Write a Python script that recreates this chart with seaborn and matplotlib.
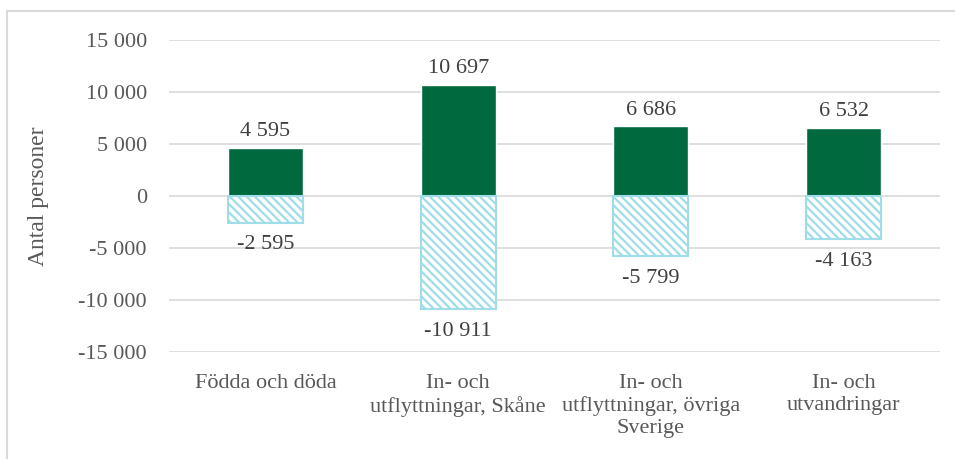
import matplotlib
matplotlib.use("Agg")
import matplotlib.pyplot as plt
import seaborn as sns
import pandas as pd
from matplotlib.patches import Rectangle

categories = ["Födda och döda", "In- och\nutflyttningar, Skåne",
              "In- och\nutflyttningar, övriga\nSverige", "In- och\nutvandringar"]
positive = [4595, 10697, 6686, 6532]
negative = [-2595, -10911, -5799, -4163]
yticks = [-15000, -10000, -5000, 0, 5000, 10000, 15000]

sns.set_theme(style="white")
plt.rcParams['font.family'] = ['Liberation Serif', 'DejaVu Serif']
plt.rcParams['hatch.linewidth'] = 1.6

fig = plt.figure(figsize=(9.55, 4.59), dpi=100)
ax = fig.add_axes([169/955, 1-352/459, (940-169)/955, (352-40)/459])

df = pd.DataFrame({"cat": categories, "pos": positive, "neg": negative})
green = "#00693E"
blue = "#9FDDE8"
text_col = "#595959"

sns.barplot(data=df, x="cat", y="pos", color=green, width=0.39, ax=ax,
            saturation=1, zorder=3)
n0 = len(ax.patches)
sns.barplot(data=df, x="cat", y="neg", color="white", width=0.39, ax=ax,
            saturation=1, zorder=3)
for p in ax.patches[n0:]:
    p.set_hatch("\\\\\\\\")
    p.set_edgecolor(blue)
    p.set_linewidth(1.5)
    p.set_facecolor("white")

ax.set_ylim(-15000, 15000)
ax.set_xlim(-0.5, len(categories) - 0.5)
ax.set_yticks(yticks)
ax.set_yticklabels([f"{v:,}".replace(",", " ") for v in yticks])
ax.yaxis.grid(True, color="#d9d9d9", linewidth=1.2, zorder=0)
ax.set_axisbelow(True)
for s in ax.spines.values():
    s.set_visible(False)
ax.tick_params(axis="both", length=0, labelsize=16, labelcolor=text_col)
ax.tick_params(axis="y", pad=16)
ax.tick_params(axis="x", pad=16)
ax.set_xlabel("")
ax.set_ylabel("Antal personer", fontsize=17, color=text_col, labelpad=21)

for i, (pv, nv) in enumerate(zip(positive, negative)):
    ax.annotate(f"{pv:,}".replace(",", " "), (i, pv), xytext=(0, 5),
                textcoords="offset points", ha="center", va="bottom",
                fontsize=16, color="#404040")
    ax.annotate(f"{nv:,}".replace(",", " "), (i, nv), xytext=(0, -9),
                textcoords="offset points", ha="center", va="top",
                fontsize=16, color="#404040")

fig.patches.append(Rectangle((7/955, -0.1), 1.1, 1 - 11/459 + 0.1,
                             transform=fig.transFigure, fill=False,
                             edgecolor="#d9d9d9", linewidth=1.5))

fig.savefig("out.png", dpi=100)
